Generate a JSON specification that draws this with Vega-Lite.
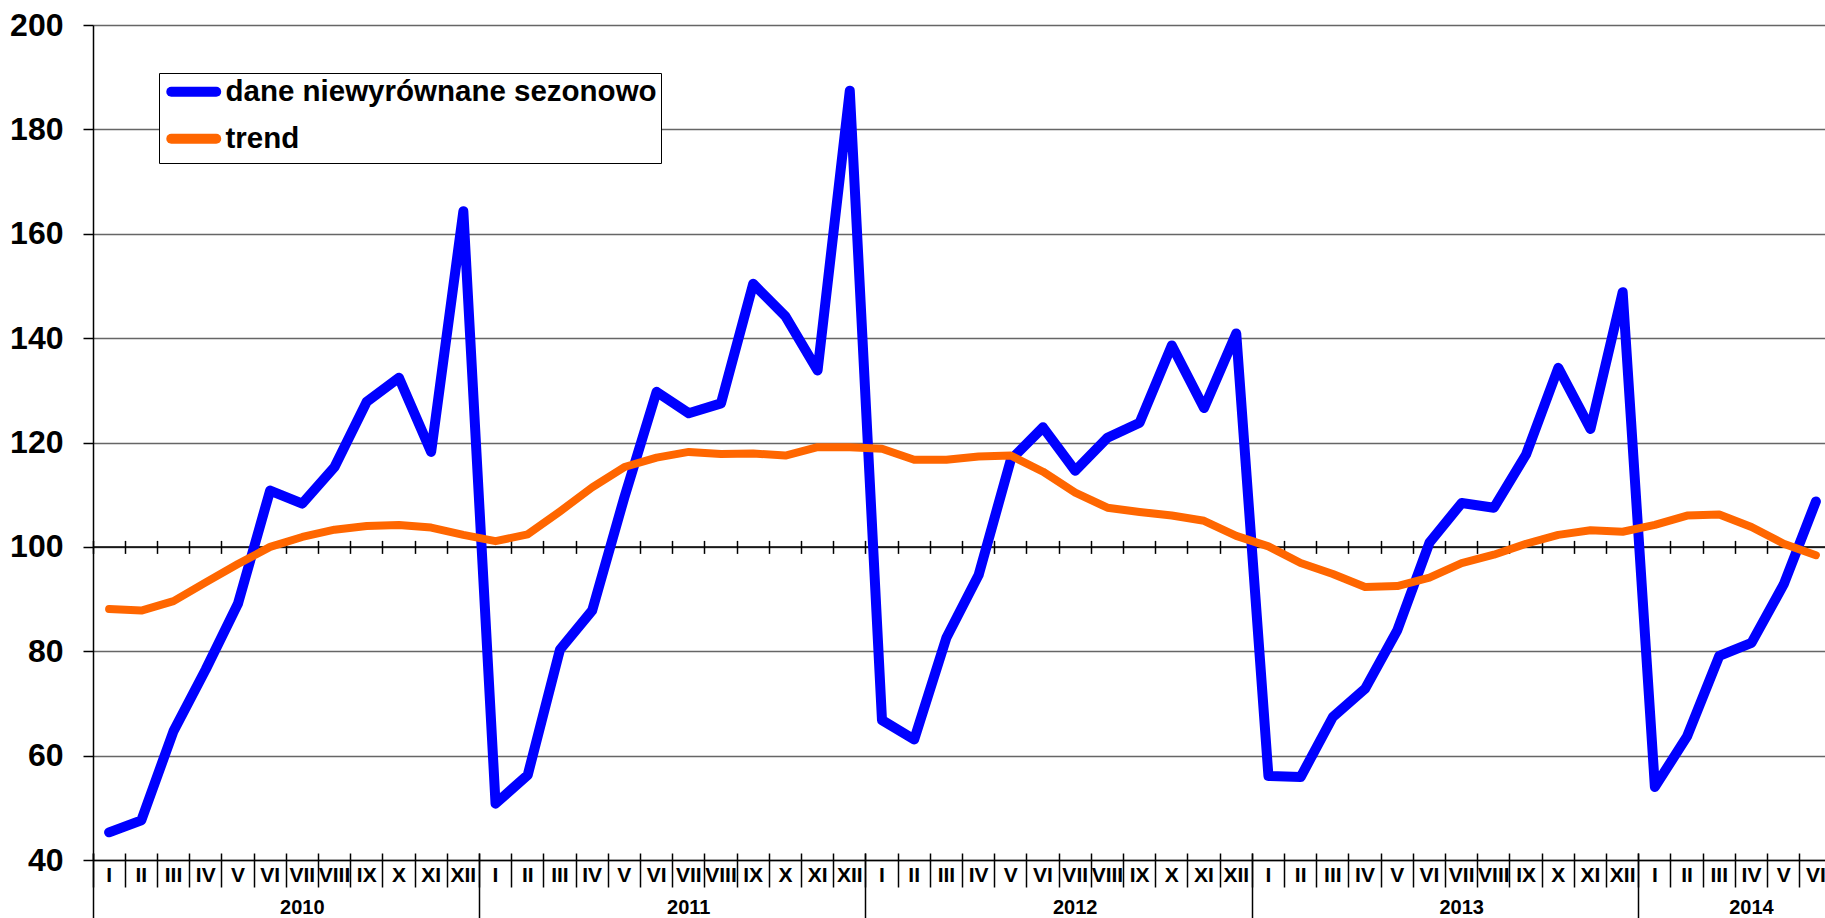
{
  "$schema": "https://vega.github.io/schema/vega-lite/v6.json",
  "width": 1739,
  "height": 835,
  "autosize": {"type": "none"},
  "padding": {"left": 93, "top": 25, "right": 0, "bottom": 58},
  "background": "white",
  "config": {"view": {"stroke": null}, "font": "Liberation Sans"},
  "title": {"text": "przeciętna miesięczna 2010=100", "fontSize": 42, "fontWeight": "bold", "font": "Liberation Sans", "baseline": "alphabetic", "offset": 29, "anchor": "middle", "frame": "group", "color": "black"},
  "data": {"values": [
    {"m": "2010-01", "dane": 45.3, "trend": 88.1},
    {"m": "2010-02", "dane": 47.6, "trend": 87.8},
    {"m": "2010-03", "dane": 64.7, "trend": 89.6},
    {"m": "2010-04", "dane": 76.5, "trend": 93.2},
    {"m": "2010-05", "dane": 89.1, "trend": 96.7},
    {"m": "2010-06", "dane": 110.8, "trend": 100.0},
    {"m": "2010-07", "dane": 108.3, "trend": 101.9},
    {"m": "2010-08", "dane": 115.3, "trend": 103.3},
    {"m": "2010-09", "dane": 127.8, "trend": 104.0},
    {"m": "2010-10", "dane": 132.4, "trend": 104.2},
    {"m": "2010-11", "dane": 118.2, "trend": 103.7},
    {"m": "2010-12", "dane": 164.3, "trend": 102.3},
    {"m": "2011-01", "dane": 50.8, "trend": 101.1},
    {"m": "2011-02", "dane": 56.3, "trend": 102.4},
    {"m": "2011-03", "dane": 80.3, "trend": 106.8},
    {"m": "2011-04", "dane": 87.8, "trend": 111.4},
    {"m": "2011-05", "dane": 109.5, "trend": 115.3},
    {"m": "2011-06", "dane": 129.7, "trend": 117.1},
    {"m": "2011-07", "dane": 125.6, "trend": 118.2},
    {"m": "2011-08", "dane": 127.5, "trend": 117.8},
    {"m": "2011-09", "dane": 150.4, "trend": 117.9},
    {"m": "2011-10", "dane": 144.2, "trend": 117.5},
    {"m": "2011-11", "dane": 133.8, "trend": 119.1},
    {"m": "2011-12", "dane": 187.4, "trend": 119.1},
    {"m": "2012-01", "dane": 66.8, "trend": 118.8},
    {"m": "2012-02", "dane": 63.1, "trend": 116.7},
    {"m": "2012-03", "dane": 82.6, "trend": 116.7},
    {"m": "2012-04", "dane": 94.6, "trend": 117.3},
    {"m": "2012-05", "dane": 116.7, "trend": 117.5},
    {"m": "2012-06", "dane": 122.9, "trend": 114.4},
    {"m": "2012-07", "dane": 114.6, "trend": 110.4},
    {"m": "2012-08", "dane": 120.9, "trend": 107.5},
    {"m": "2012-09", "dane": 123.8, "trend": 106.7},
    {"m": "2012-10", "dane": 138.6, "trend": 106.0},
    {"m": "2012-11", "dane": 126.6, "trend": 105.0},
    {"m": "2012-12", "dane": 140.9, "trend": 102.1},
    {"m": "2013-01", "dane": 56.1, "trend": 100.1},
    {"m": "2013-02", "dane": 55.9, "trend": 96.9},
    {"m": "2013-03", "dane": 67.4, "trend": 94.8},
    {"m": "2013-04", "dane": 72.8, "trend": 92.3},
    {"m": "2013-05", "dane": 84.0, "trend": 92.5},
    {"m": "2013-06", "dane": 100.8, "trend": 94.1},
    {"m": "2013-07", "dane": 108.4, "trend": 96.9},
    {"m": "2013-08", "dane": 107.5, "trend": 98.5},
    {"m": "2013-09", "dane": 117.7, "trend": 100.6},
    {"m": "2013-10", "dane": 134.3, "trend": 102.3},
    {"m": "2013-11", "dane": 122.6, "trend": 103.2},
    {"m": "2013-12", "dane": 148.8, "trend": 102.9},
    {"m": "2014-01", "dane": 54.0, "trend": 104.2},
    {"m": "2014-02", "dane": 63.7, "trend": 106.0},
    {"m": "2014-03", "dane": 79.1, "trend": 106.2},
    {"m": "2014-04", "dane": 81.6, "trend": 103.8},
    {"m": "2014-05", "dane": 92.8, "trend": 100.6},
    {"m": "2014-06", "dane": 108.7, "trend": 98.4}
  ]},
  "resolve": {"axis": {"x": "independent", "y": "independent"}},
  "layer": [
    {
      "mark": {"type": "rule", "color": "black", "strokeWidth": 1.5},
      "data": {"values": [{}]},
      "encoding": {
        "y": {"datum": 100, "type": "quantitative", "scale": {"domain": [40, 200], "nice": false, "zero": false}, "axis": null}
      }
    },
    {
      "mark": {"type": "rule", "strokeOpacity": 0},
      "encoding": {
        "x": {"field": "m", "type": "ordinal", "scale": {"type": "band", "paddingInner": 0, "paddingOuter": 0},
          "axis": {"orient": "bottom", "bandPosition": 0, "offset": -319.6, "tickSize": 13, "tickColor": "black", "tickWidth": 1.5, "labels": false, "domain": false, "grid": false, "title": null}}
      }
    },
    {
      "mark": {"type": "rule", "strokeOpacity": 0},
      "encoding": {
        "x": {"field": "m", "type": "ordinal",
          "axis": {"orient": "bottom", "bandPosition": 0, "offset": -7, "tickSize": 34, "tickColor": "black", "tickWidth": 1.5, "labels": false, "domain": false, "grid": false, "title": null}}
      }
    },
    {
      "mark": {"type": "rule", "strokeOpacity": 0},
      "encoding": {
        "x": {"field": "m", "type": "ordinal",
          "axis": {"orient": "bottom", "bandPosition": 0, "values": ["2010-01", "2011-01", "2012-01", "2013-01", "2014-01"], "offset": -7, "tickSize": 72, "tickColor": "black", "tickWidth": 1.5, "labels": false, "domain": false, "grid": false, "title": null}}
      }
    },
    {
      "mark": {"type": "line", "strokeWidth": 10, "strokeCap": "round", "strokeJoin": "round"},
      "encoding": {
        "x": {"field": "m", "type": "ordinal", "bandPosition": 0.5,
          "axis": {"orient": "bottom", "bandPosition": 0.5, "ticks": false, "tickSize": 0, "domain": true, "domainColor": "black", "domainWidth": 1.5, "grid": false, "title": null,
            "labelExpr": "['I','II','III','IV','V','VI','VII','VIII','IX','X','XI','XII'][toNumber(slice(datum.value,5,7))-1]",
            "labelAngle": 0, "labelFontSize": 21, "labelFontWeight": "bold", "labelColor": "black", "labelPadding": 15, "labelBaseline": "middle", "labelOverlap": false, "labelBound": false}},
        "y": {"field": "dane", "type": "quantitative",
          "axis": {"values": [40, 60, 80, 100, 120, 140, 160, 180, 200], "title": null, "grid": true, "gridColor": "#666666", "gridWidth": 1.5,
            "tickSize": 10, "tickColor": "black", "tickWidth": 1.5, "domainColor": "black", "domainWidth": 1.5,
            "labelFontSize": 32, "labelFontWeight": "bold", "labelColor": "black", "labelPadding": 20}},
        "color": {"datum": "dane niewyrównane sezonowo",
          "scale": {"domain": ["dane niewyrównane sezonowo", "trend"], "range": ["#0000FF", "#FF6600"]},
          "legend": {"orient": "none", "legendX": 66, "legendY": 48, "title": null, "symbolType": "M-0.68,0H4.05", "symbolStrokeWidth": 10, "symbolSize": 361,
            "labelFontSize": 29.5, "labelFontWeight": "bold", "labelFont": "Liberation Sans", "labelColor": "black", "labelOffset": 33, "labelLimit": 800,
            "strokeColor": "black", "fillColor": "white", "padding": 4, "rowPadding": 6, "symbolOpacity": 1,
            "encode": {"symbols": {"update": {"strokeCap": {"value": "round"}, "fill": {"value": "transparent"}}}}}}
      }
    },
    {
      "mark": {"type": "line", "strokeWidth": 8, "strokeCap": "round", "strokeJoin": "round"},
      "encoding": {
        "x": {"field": "m", "type": "ordinal", "bandPosition": 0.5,
          "axis": {"orient": "bottom", "bandPosition": 0, "values": ["2010-07", "2011-07", "2012-07", "2013-07", "2014-04"], "ticks": false, "tickSize": 0, "domain": false, "grid": false, "title": null,
            "labelExpr": "slice(datum.value,0,4)", "labelAngle": 0, "labelFontSize": 20, "labelFontWeight": "bold", "labelColor": "black", "labelPadding": 47, "labelBaseline": "middle", "labelOverlap": false, "labelBound": false}},
        "y": {"field": "trend", "type": "quantitative", "axis": null},
        "color": {"datum": "trend"}
      }
    }
  ]
}
